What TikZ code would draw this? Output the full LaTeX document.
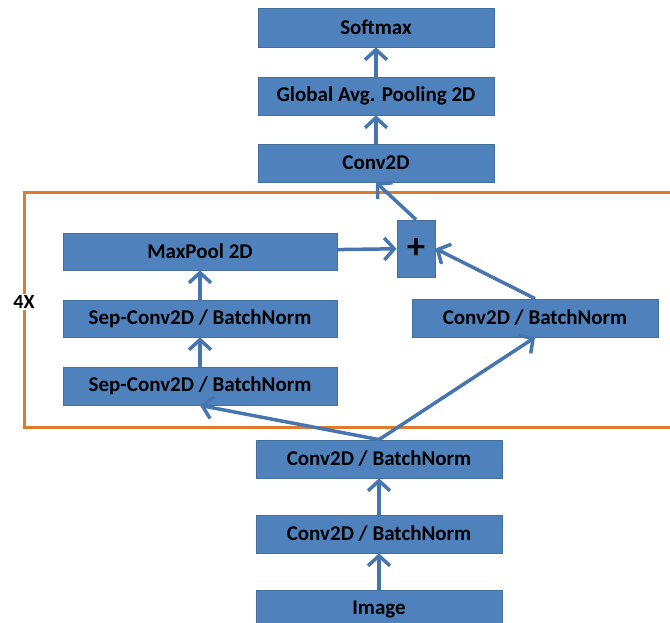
\documentclass[tikz,border=0pt]{standalone}
\usepackage{fontspec}
\setmainfont{Carlito}
\usetikzlibrary{arrows.meta}
\definecolor{boxblue}{HTML}{4F81BD}
\definecolor{boxedge}{HTML}{41719C}
\definecolor{arrowblue}{HTML}{4675B0}
\definecolor{loopline}{HTML}{E07A2C}
\begin{document}
\begin{tikzpicture}[x=1pt,y=-1pt,
		blk/.style={draw=boxedge,line width=0.8pt,fill=boxblue,text=black,font=\bfseries\fontsize{21}{24}\selectfont,inner sep=0pt},
		arr/.style={draw=arrowblue,line width=3.5pt,-{Straight Barb[length=10pt,width=22pt]}}]
		\useasboundingbox (0,0) rectangle (670,623);
		
		\draw[loopline,line width=3pt] (670,193)--(24,193)--(24,427)--(670,427);
		\node (times) at (24,302) [fill=white,inner sep=2pt,font=\bfseries\fontsize{20}{24}\selectfont] {4X};
		
		\node (softmax) at (376,27.5) [blk,minimum width=236,minimum height=39] {Softmax};
		\node (gap) at (376,96) [blk,minimum width=236,minimum height=38] {Global Avg. Pooling 2D};
		\node (conv) at (376,163) [blk,minimum width=236,minimum height=38] {Conv2D};
		\node (maxpool) at (200,251.5) [blk,minimum width=274,minimum height=37] {MaxPool 2D};
		\node (plus) at (416,248.5) [blk,minimum width=38,minimum height=57,font=\bfseries\fontsize{36}{36}\selectfont] {+};
		\node (sepa) at (200,318.5) [blk,minimum width=274,minimum height=37] {Sep-Conv2D / BatchNorm};
		\node (sepb) at (200,386) [blk,minimum width=274,minimum height=38] {Sep-Conv2D / BatchNorm};
		\node (convr) at (535,318) [blk,minimum width=246,minimum height=38] {Conv2D / BatchNorm};
		\node (cbna) at (379,459) [blk,minimum width=246,minimum height=38] {Conv2D / BatchNorm};
		\node (cbnb) at (379,534) [blk,minimum width=246,minimum height=38] {Conv2D / BatchNorm};
		\node (image) at (379,609) [blk,minimum width=246,minimum height=38] {Image};
		
		\draw[arr] (image)--(cbnb);
		\draw[arr] (cbnb)--(cbna);
		\draw[arr] (cbna.north)--(sepb.south);
		\draw[arr] (cbna.north)--(convr.south);
		\draw[arr] (sepb)--(sepa);
		\draw[arr] (sepa)--(maxpool);
		\draw[arr] (maxpool)--(plus);
		\draw[arr] (convr.north)--(plus.east);
		\draw[arr] (plus.north)--(conv.south);
		\draw[arr] (conv)--(gap);
		\draw[arr] (gap)--(softmax);
	\end{tikzpicture}
\end{document}
